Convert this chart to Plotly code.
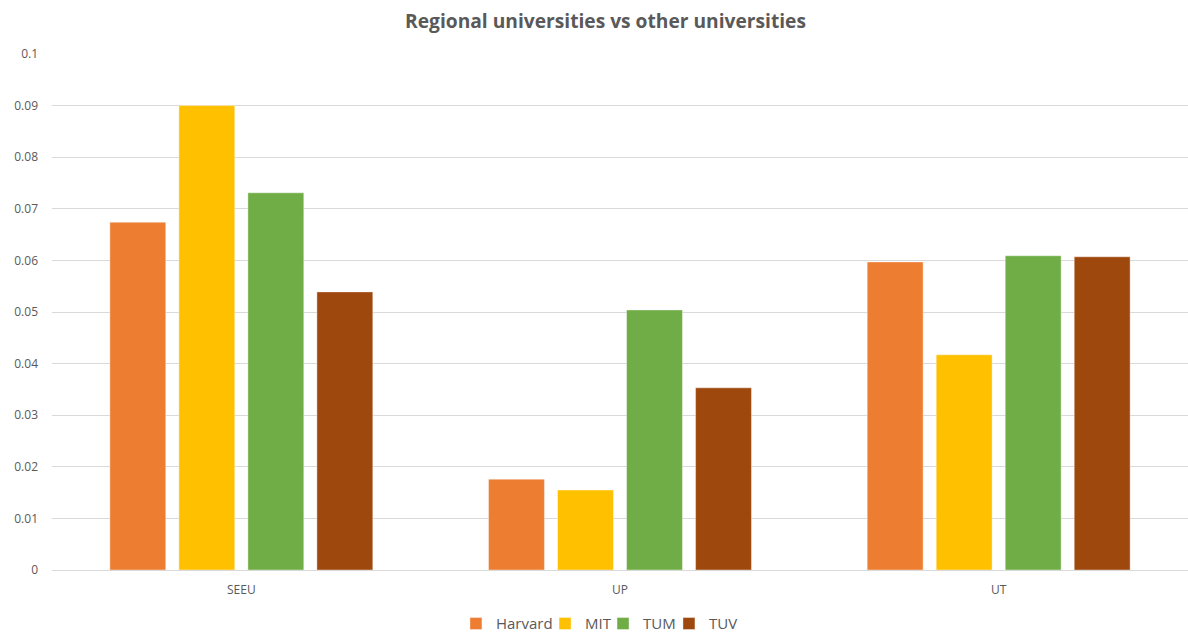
import plotly.graph_objects as go

# Categories and series values
universities = ["SEEU", "UP", "UT"]
series_names = ["Harvard", "MIT", "TUM", "TUV"]
harvard = [0.0674, 0.0176, 0.0597]
mit = [0.0900, 0.0155, 0.0417]
tum = [0.0731, 0.0504, 0.0609]
tuv = [0.0539, 0.0353, 0.0607]
y_ticks = [0, 0.01, 0.02, 0.03, 0.04, 0.05, 0.06, 0.07, 0.08, 0.09, 0.1]

colors = ["#ED7D31", "#FFC000", "#70AD47", "#9E480E"]
values = [harvard, mit, tum, tuv]

# One small legend per series so the entries sit close together
legend_ids = ["legend", "legend2", "legend3", "legend4"]
legend_x = [0.3838, 0.4588, 0.5076, 0.5631]

font_family = "Open Sans, Liberation Sans, sans-serif"

fig = go.Figure()
for name, vals, col, lid in zip(series_names, values, colors, legend_ids):
    fig.add_trace(go.Bar(
        x=universities, y=vals, name=name, legend=lid, showlegend=True,
        marker=dict(color=col, line=dict(color="rgba(255,255,255,0.5)", width=0.8)),
    ))

legend_layout = {}
for lid, lx in zip(legend_ids, legend_x):
    legend_layout[lid] = dict(
        orientation="h", xref="container", yref="container",
        x=lx, xanchor="left", y=0.013, yanchor="middle",
        font=dict(family=font_family, size=15, color="#595959"),
        itemwidth=30, bgcolor="rgba(0,0,0,0)",
    )

fig.update_layout(
    width=1188, height=632,
    margin=dict(l=52, r=0, t=54, b=62, autoexpand=False),
    paper_bgcolor="white", plot_bgcolor="white",
    showlegend=True,
    barmode="group", bargap=0.271, bargroupgap=0.19,
    title=dict(
        text="<b>Regional universities vs other universities</b>",
        xref="container", x=0.5097, xanchor="center", y=0.967, yanchor="middle",
        font=dict(family=font_family, size=19.2, color="#595959"),
    ),
    font=dict(family=font_family, size=12, color="#595959"),
    yaxis=dict(
        range=[0, 0.1], tickvals=y_ticks,
        ticktext=[f"{v:g}" for v in y_ticks],
        showgrid=True, gridcolor="#D9D9D9", gridwidth=1,
        zeroline=True, zerolinecolor="#D9D9D9", zerolinewidth=1,
        showline=False, ticklabelstandoff=13,
        tickfont=dict(size=12, color="#595959"),
    ),
    xaxis=dict(
        showline=False, showgrid=False,
        tickfont=dict(size=12, color="#595959"), ticklabelstandoff=11,
    ),
    **legend_layout,
)

fig.write_html("out.html")
